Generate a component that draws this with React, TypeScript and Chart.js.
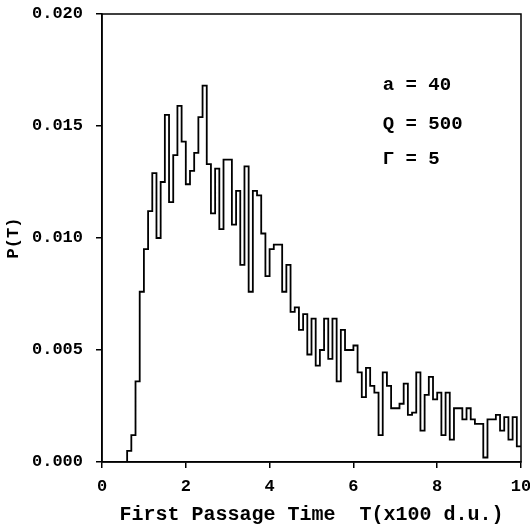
import React, { useEffect, useRef } from "react";
import { Chart, registerables } from "chart.js";

Chart.register(...registerables);

// ---- data ----
const binStart = 0;
const binWidth = 0.1;
// P(T) per bin of width 0.1 (x100 d.u.), bins 0.0 .. 9.9
const probabilities = [
  0, 0, 0, 0, 0, 0, 0.0005, 0.0012, 0.0036, 0.0076,
  0.0095, 0.0112, 0.0129, 0.0100, 0.0125, 0.0155, 0.0116, 0.0137, 0.0159, 0.0143,
  0.0124, 0.0130, 0.0138, 0.0154, 0.0168, 0.0133, 0.0111, 0.0131, 0.0104, 0.0135,
  0.0135, 0.0106, 0.0121, 0.0088, 0.0132, 0.0076, 0.0121, 0.0119, 0.0102, 0.0083,
  0.0095, 0.0097, 0.0097, 0.0076, 0.0088, 0.0067, 0.0069, 0.0059, 0.0066, 0.0048,
  0.0064, 0.0043, 0.0050, 0.0064, 0.0046, 0.0064, 0.0036, 0.0059, 0.0050, 0.0050,
  0.0052, 0.0040, 0.0029, 0.0042, 0.0034, 0.0031, 0.0012, 0.0040, 0.0034, 0.0024,
  0.0024, 0.0026, 0.0035, 0.0021, 0.0022, 0.0040, 0.0014, 0.0030, 0.0038, 0.0028,
  0.0031, 0.0012, 0.0031, 0.0010, 0.0024, 0.0024, 0.0019, 0.0024, 0.0019, 0.0017,
  0.0017, 0.0002, 0.0019, 0.0019, 0.0021, 0.0014, 0.0020, 0.0010, 0.0020, 0.0007,
];
const xMin = 0;
const xMax = 10;
const xStep = 2;
const yMin = 0;
const yMax = 0.02;
const yStep = 0.005;
const xTitle = "First Passage Time  T(x100 d.u.)";
const yTitle = "P(T)";
const annotationLines = ["a = 40", "Q = 500", "\u0393 = 5"];

// ---- layout / style ----
const FONT = '"Liberation Mono", "Courier New", monospace';
const annotX = 6.7; // data x where the parameter text begins
const annotY = [0.0168, 0.0151, 0.0135]; // data y of each text line

const frameAndTextPlugin = {
  id: "frameAndText",
  afterDraw(chart: any) {
    const { ctx, chartArea, scales } = chart;
    ctx.save();
    ctx.strokeStyle = "#000";
    ctx.lineWidth = 1.5;
    ctx.strokeRect(
      chartArea.left,
      chartArea.top,
      chartArea.right - chartArea.left,
      chartArea.bottom - chartArea.top
    );
    ctx.fillStyle = "#000";
    ctx.font = `bold 19px ${FONT}`;
    ctx.textBaseline = "middle";
    ctx.textAlign = "left";
    const x = scales.x.getPixelForValue(annotX);
    annotationLines.forEach((t, i) => {
      ctx.fillText(t, x, scales.y.getPixelForValue(annotY[i]));
    });
    ctx.restore();
  },
};

export default function App() {
  const canvasRef = useRef<HTMLCanvasElement | null>(null);

  useEffect(() => {
    const canvas = canvasRef.current;
    if (!canvas) return;
    const points = probabilities.map((p, i) => ({ x: binStart + i * binWidth, y: p }));
    points.push({
      x: binStart + probabilities.length * binWidth,
      y: probabilities[probabilities.length - 1],
    });

    const chart = new Chart(canvas, {
      type: "line",
      data: {
        datasets: [
          {
            data: points,
            borderColor: "#000",
            borderWidth: 1.8,
            pointRadius: 0,
            stepped: "before",
            fill: false,
            tension: 0,
          },
        ],
      },
      options: {
        animation: false,
        responsive: true,
        maintainAspectRatio: false,
        layout: { padding: { top: 14, right: 9, left: 0, bottom: 0 } },
        plugins: {
          legend: { display: false },
          tooltip: { enabled: false },
        },
        scales: {
          x: {
            type: "linear",
            min: xMin,
            max: xMax,
            afterFit(scale: any) {
              scale.height = 68;
              scale.paddingRight = 0;
              scale.paddingLeft = 0;
            },
            ticks: {
              stepSize: xStep,
              color: "#000",
              font: { family: FONT, size: 17, weight: "bold" },
              padding: 9,
              maxRotation: 0,
              callback: (v: any) => String(v),
            },
            grid: {
              display: true,
              drawOnChartArea: false,
              drawTicks: true,
              tickLength: 6,
              color: "#000",
              lineWidth: 1.5,
            },
            border: { display: true, color: "#000", width: 1.5 },
            title: {
              display: true,
              text: xTitle,
              color: "#000",
              font: { family: FONT, size: 20, weight: "bold" },
              padding: { top: 0, bottom: 3 },
            },
          },
          y: {
            type: "linear",
            min: yMin,
            max: yMax,
            afterFit(scale: any) {
              scale.width = 102;
              scale.paddingTop = 0;
              scale.paddingBottom = 0;
            },
            ticks: {
              stepSize: yStep,
              color: "#000",
              font: { family: FONT, size: 17, weight: "bold" },
              padding: 13,
              callback: (v: any) => Number(v).toFixed(3),
            },
            grid: {
              display: true,
              drawOnChartArea: false,
              drawTicks: true,
              tickLength: 6,
              color: "#000",
              lineWidth: 1.5,
            },
            border: { display: true, color: "#000", width: 1.5 },
            title: {
              display: true,
              text: yTitle,
              color: "#000",
              font: { family: FONT, size: 17, weight: "bold" },
              padding: { top: 4, bottom: 0 },
            },
          },
        },
      },
      plugins: [frameAndTextPlugin],
    });
    return () => chart.destroy();
  }, []);

  return (
    <div
      style={{
        position: "absolute",
        left: 0,
        top: 0,
        width: 530,
        height: 530,
        background: "#fff",
      }}
    >
      <canvas ref={canvasRef} />
    </div>
  );
}
